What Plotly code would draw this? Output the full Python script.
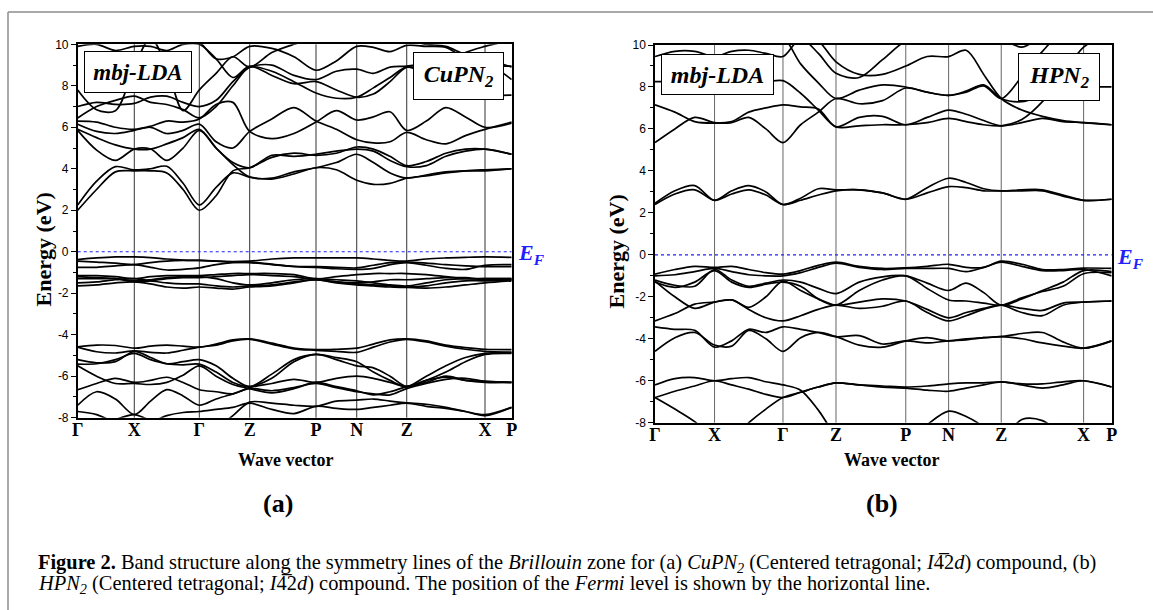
import plotly.graph_objects as go

# high-symmetry path (normalised k distance) and sample grid used for the bands
k_ticks = [0, 0.1304, 0.2802, 0.3963, 0.5491, 0.6429, 0.7581, 0.9385, 1.0]
k_labels = ["Γ", "X", "Γ", "Z", "P", "N", "Z", "X", "P"]
k_grid = [0, 0.0435, 0.0869, 0.1304, 0.1679, 0.2053, 0.2428, 0.2802,
          0.3189, 0.3576, 0.3963, 0.4472, 0.4982, 0.5491, 0.5960, 0.6429,
          0.6813, 0.7197, 0.7581, 0.8032, 0.8483, 0.8934, 0.9385, 1.0]

energy_range = [-8, 10]
energy_ticks = [-8, -6, -4, -2, 0, 2, 4, 6, 8, 10]
energy_labels = ["-8", "-6", "-4", "-2", "0", "2", "4", "6", "8", "10"]
fermi_level = 0.0

# (a) CuPN2, energies (eV) read at k_grid
cupn2_conduction = [
    [2.0, 3.0, 3.85, 3.9, 3.9, 3.8, 3.0, 2.0, 2.7, 3.9, 4.05, 4.55, 4.75, 4.65, 4.75, 5.05, 4.95, 4.6, 4.15, 4.35, 4.75, 4.95, 4.95, 4.7],
    [2.25, 3.4, 4.1, 3.95, 4.0, 4.12, 3.3, 2.25, 3.1, 3.8, 3.6, 3.5, 3.75, 4.05, 3.95, 3.45, 3.25, 3.3, 3.55, 3.65, 3.8, 3.9, 3.95, 4.0],
    [5.85, 4.9, 4.4, 4.95, 4.95, 4.4, 5.0, 5.85, 5.0, 4.2, 3.6, 3.55, 3.85, 4.05, 4.3, 4.7, 4.3, 3.8, 3.55, 3.7, 3.85, 3.9, 3.9, 4.0],
    [5.9, 5.5, 5.15, 4.95, 4.95, 5.2, 5.5, 5.9, 5.0, 4.3, 4.05, 4.65, 4.6, 4.7, 4.85, 4.95, 4.85, 4.4, 4.1, 4.15, 4.6, 4.85, 4.95, 4.7],
    [6.15, 5.8, 5.7, 5.85, 6.0, 5.7, 5.85, 6.15, 5.3, 5.0, 5.8, 6.4, 6.95, 6.3, 5.9, 5.4, 5.25, 5.3, 5.75, 5.4, 5.2, 5.6, 5.9, 6.25],
    [6.3, 6.25, 6.0, 5.9, 6.05, 6.3, 6.25, 6.4, 7.1, 7.2, 5.8, 5.45, 5.7, 6.25, 6.8, 6.35, 6.5, 6.75, 5.85, 6.3, 6.95, 6.5, 6.0, 6.2],
    [6.45, 7.0, 7.3, 7.5, 7.2, 7.1, 6.85, 6.45, 7.0, 8.0, 8.9, 8.7, 8.2, 7.65, 7.4, 7.45, 7.9, 8.4, 8.9, 8.6, 8.1, 7.7, 7.55, 7.55],
    [7.0, 7.2, 7.1, 7.15, 7.45, 7.5, 7.2, 7.0, 7.3, 8.2, 8.9, 9.0, 8.5, 8.3, 8.7, 8.8, 8.6, 8.9, 8.95, 9.1, 9.3, 9.5, 9.2, 8.3],
    [7.8, 6.85, 6.8, 8.9, 10.3, 8.9, 6.8, 7.8, 8.6, 9.4, 8.9, 9.6, 10.0, 10.3, 10.3, 10.3, 10.3, 10.3, 10.2, 10.0, 9.9, 9.5, 9.3, 8.9],
    [9.9, 10.0, 9.7, 9.9, 9.9, 9.7, 10.0, 10.0, 9.3, 8.4, 8.95, 8.5, 8.1, 8.2, 7.8, 7.45, 7.6, 8.2, 8.9, 8.8, 9.0, 9.6, 9.9, 10.2],
    [10.3, 10.5, 10.5, 10.5, 10.5, 10.5, 10.3, 10.1, 9.3, 9.4, 9.9, 9.8, 9.4, 8.75, 9.2, 9.9, 9.85, 9.65, 9.95, 9.9, 9.85, 9.3, 9.0, 8.95],
]
cupn2_valence = [
    [-0.38, -0.3, -0.25, -0.25, -0.28, -0.35, -0.4, -0.42, -0.45, -0.47, -0.45, -0.35, -0.3, -0.3, -0.3, -0.3, -0.35, -0.42, -0.45, -0.35, -0.3, -0.27, -0.25, -0.27],
    [-0.45, -0.5, -0.55, -0.62, -0.52, -0.45, -0.42, -0.42, -0.45, -0.5, -0.52, -0.62, -0.7, -0.72, -0.75, -0.78, -0.65, -0.52, -0.5, -0.55, -0.62, -0.68, -0.72, -0.72],
    [-0.75, -0.75, -0.68, -0.62, -0.75, -0.88, -0.85, -0.78, -0.62, -0.52, -0.5, -0.6, -0.72, -0.75, -0.82, -0.85, -0.8, -0.62, -0.52, -0.65, -0.8, -0.85, -0.65, -0.62],
    [-1.15, -1.15, -1.2, -1.3, -1.2, -1.15, -1.15, -1.15, -1.1, -1.05, -1.05, -1.05, -1.1, -1.3, -1.2, -1.1, -1.05, -1.05, -1.05, -1.1, -1.2, -1.3, -1.3, -1.3],
    [-1.2, -1.25, -1.3, -1.4, -1.35, -1.25, -1.2, -1.2, -1.3, -1.5, -1.6, -1.5, -1.35, -1.3, -1.35, -1.4, -1.5, -1.6, -1.65, -1.5, -1.35, -1.3, -1.3, -1.3],
    [-1.5, -1.45, -1.35, -1.3, -1.4, -1.5, -1.55, -1.55, -1.65, -1.7, -1.65, -1.6, -1.45, -1.35, -1.45, -1.55, -1.6, -1.65, -1.7, -1.65, -1.5, -1.4, -1.4, -1.35],
    [-1.65, -1.6, -1.5, -1.45, -1.55, -1.7, -1.75, -1.7, -1.75, -1.8, -1.7, -1.65, -1.5, -1.35, -1.5, -1.6, -1.65, -1.7, -1.72, -1.75, -1.7, -1.6, -1.5, -1.4],
    [-1.3, -1.3, -1.3, -1.45, -1.4, -1.3, -1.25, -1.25, -1.2, -1.15, -1.1, -1.15, -1.2, -1.35, -1.45, -1.5, -1.45, -1.35, -1.35, -1.3, -1.25, -1.25, -1.35, -1.35],
    [-4.58, -4.5, -4.52, -4.65, -4.55, -4.5, -4.55, -4.6, -4.45, -4.25, -4.2, -4.4, -4.65, -4.72, -4.7, -4.65, -4.45, -4.25, -4.2, -4.3, -4.5, -4.62, -4.7, -4.72],
    [-4.6, -4.82, -4.88, -4.78, -4.85, -4.88, -4.75, -4.6, -4.5, -4.3, -4.22, -4.45, -4.68, -4.75, -4.8, -4.85, -4.6, -4.35, -4.22, -4.35, -4.55, -4.7, -4.8, -4.85],
    [-5.2, -5.35, -5.3, -4.8, -5.1, -5.4, -5.3, -5.2, -5.5, -6.1, -6.5, -5.9, -5.2, -4.95, -5.1, -5.3, -5.8, -6.2, -6.5, -6.0, -5.5, -5.1, -4.9, -4.85],
    [-5.42, -5.4, -5.2, -4.9, -5.2, -5.4, -5.45, -5.42, -5.8, -6.3, -6.5, -6.1, -5.3, -4.95, -5.2, -5.5, -5.6, -6.0, -6.5, -6.2, -5.8, -5.3, -4.95, -4.9],
    [-6.65, -6.35, -6.1, -6.3, -6.2, -6.05, -6.3, -6.65, -6.75, -6.85, -6.55, -6.35, -6.15, -6.3, -6.1, -6.0, -6.1, -6.3, -6.5, -6.2, -6.05, -6.2, -6.25, -6.3],
    [-5.5, -6.0, -6.35, -6.35, -6.4, -6.3, -5.95, -5.5, -6.0, -6.4, -6.6, -6.8, -6.6, -6.3, -6.5, -6.7, -6.9, -6.75, -6.5, -6.3, -6.0, -6.2, -6.3, -6.3],
    [-7.4, -6.75, -7.1, -7.85, -7.2, -6.65, -6.95, -7.4, -7.1, -6.85, -6.6, -6.7, -6.55, -6.35, -6.55, -6.75, -6.85, -6.9, -6.6, -6.35, -6.15, -6.1, -6.25, -6.3],
    [-7.7, -7.85, -8.2, -8.2, -8.2, -7.9, -7.75, -7.7, -7.6, -7.5, -7.3, -7.6, -7.8, -7.45, -7.55, -7.6, -7.5, -7.4, -7.3, -7.45, -7.55, -7.7, -7.9, -7.5],
    [-8.8, -8.5, -8.1, -7.85, -8.15, -8.5, -8.8, -8.9, -8.5, -7.9, -7.25, -7.3, -7.4, -7.45, -7.2, -7.15, -7.1, -7.2, -7.28, -7.35, -7.5, -7.7, -7.85, -7.5],
]

# (b) HPN2
hpn2_conduction = [
    [2.4, 2.9, 3.1, 2.6, 2.9, 3.1, 2.85, 2.4, 2.6, 2.85, 3.05, 3.1, 2.95, 2.65, 2.95, 3.25, 3.2, 3.05, 3.05, 3.05, 3.05, 2.8, 2.6, 2.65],
    [2.45, 3.05, 3.3, 2.6, 3.05, 3.3, 3.0, 2.4, 2.7, 3.15, 3.1, 3.1, 2.95, 2.65, 3.2, 3.65, 3.45, 3.15, 3.05, 3.1, 3.1, 2.85, 2.6, 2.65],
    [5.35, 6.0, 6.55, 6.3, 6.3, 6.55, 6.0, 5.35, 6.2, 6.8, 7.45, 7.2, 7.35, 7.95, 7.75, 7.6, 7.8, 8.1, 7.45, 7.3, 7.6, 7.95, 8.0, 8.0],
    [7.15, 6.8, 6.35, 6.28, 6.35, 6.8, 7.0, 7.15, 7.05, 6.95, 6.1, 6.55, 6.6, 6.2, 6.55, 6.9, 6.7, 6.4, 6.15, 6.3, 6.5, 6.35, 6.3, 6.2],
    [8.25, 8.25, 8.25, 8.25, 8.25, 8.25, 8.25, 8.3, 7.7, 6.9, 6.1, 6.15, 6.2, 6.2, 6.3, 6.5, 6.35, 6.2, 6.15, 6.45, 7.3, 8.6, 9.9, 10.6],
    [9.45, 9.7, 9.7, 9.45, 9.7, 9.75, 9.6, 9.45, 10.3, 9.6, 8.65, 8.45, 9.3, 10.2, 10.5, 10.5, 10.5, 10.5, 10.3, 9.9, 10.4, 10.6, 10.6, 10.6],
    [10.6, 10.6, 10.6, 10.6, 10.6, 10.6, 10.6, 10.4, 9.1, 8.2, 7.45, 7.85, 8.1, 8.0, 7.75, 7.6, 7.75, 8.05, 7.45, 8.5, 9.7, 10.6, 10.6, 10.6],
    [10.6, 10.6, 10.6, 10.6, 10.6, 10.6, 10.6, 10.6, 10.6, 10.2, 9.2, 8.6, 8.6, 9.0, 9.45, 9.45, 9.75, 8.6, 7.45, 6.9, 6.6, 6.4, 6.3, 6.2],
]
hpn2_valence = [
    [-0.92, -0.7, -0.55, -0.6, -0.55, -0.7, -0.85, -0.92, -0.75, -0.5, -0.35, -0.55, -0.65, -0.62, -0.55, -0.45, -0.6, -0.6, -0.3, -0.45, -0.7, -0.7, -0.63, -0.65],
    [-1.0, -0.95, -0.8, -0.65, -0.8, -0.95, -1.0, -1.0, -0.85, -0.6, -0.4, -0.6, -0.7, -0.65, -0.65, -0.65, -0.8, -0.6, -0.35, -0.55, -0.75, -0.75, -0.7, -1.0],
    [-1.2, -1.45, -1.5, -0.7, -1.2, -1.5, -1.35, -1.2, -1.3, -1.6, -1.85, -1.3, -1.05, -1.0, -1.35, -1.7, -1.35, -1.8, -2.4, -2.1, -1.7, -1.3, -0.75, -0.8],
    [-1.3, -1.55, -1.3, -0.75, -1.3, -1.55, -1.4, -1.3, -1.5, -2.1, -2.4, -1.7, -1.2, -1.0, -1.6, -2.15, -2.2, -2.3, -2.4, -2.05, -1.75, -1.5, -0.9, -0.85],
    [-1.25, -2.0, -2.55, -2.25, -2.15, -2.5, -2.0, -1.25, -1.7, -2.1, -2.4, -2.25, -2.1, -2.2, -2.6, -3.0, -2.75, -2.55, -2.4, -2.75, -2.9, -2.4, -2.25, -2.2],
    [-3.15, -2.8, -2.35, -2.25, -2.15, -2.6, -3.0, -3.15, -2.9, -2.6, -2.4, -2.55, -2.45, -2.2, -2.75, -3.15, -2.9, -2.6, -2.4, -2.55, -2.65, -2.3, -2.25, -2.2],
    [-3.43, -3.55, -3.6, -4.4, -4.1, -3.55, -3.7, -3.43, -3.55, -3.7, -3.9, -3.85, -4.25, -4.1, -4.2, -4.1, -4.05, -3.95, -3.9, -3.75, -3.7, -4.15, -4.45, -4.1],
    [-4.6, -3.95, -3.7, -4.3, -4.35, -3.6, -4.0, -4.6, -3.95, -3.7, -3.9, -4.3, -4.4, -4.1, -3.95, -4.1, -4.0, -3.95, -3.9, -4.0, -4.2, -4.35, -4.45, -4.1],
    [-6.2, -5.9, -5.85, -6.0, -5.9, -5.85, -6.05, -6.2, -6.45, -7.4, -8.6, -9.3, -9.5, -9.5, -9.5, -9.5, -9.5, -9.5, -9.5, -9.5, -9.5, -9.5, -9.5, -9.5],
    [-6.8, -6.5, -6.25, -6.0, -6.2, -6.4, -6.65, -6.8, -6.55, -6.3, -6.1, -6.2, -6.25, -6.3, -6.25, -6.15, -6.1, -6.1, -6.05, -6.15, -6.15, -6.05, -6.0, -6.3],
    [-6.8, -7.35, -7.95, -8.8, -8.8, -8.0, -7.35, -6.8, -6.55, -6.3, -6.1, -6.2, -6.3, -6.35, -6.45, -6.5, -6.35, -6.2, -6.05, -6.2, -6.35, -6.2, -6.0, -6.3],
    [-9.5, -9.5, -9.5, -9.5, -9.5, -9.5, -9.5, -9.5, -9.5, -9.5, -9.5, -9.5, -9.5, -9.0, -8.1, -7.45, -7.7, -8.2, -8.9, -9.5, -9.5, -9.5, -9.5, -9.5],
    [-9.5, -9.5, -9.5, -9.5, -9.5, -9.5, -9.5, -9.5, -9.5, -9.5, -9.5, -9.5, -9.5, -9.5, -9.5, -9.5, -9.5, -9.5, -8.9, -7.85, -7.9, -8.6, -9.3, -9.5],
]

W, H = 1153, 610


def px(x):
    return x / W


def py(y):
    return 1 - y / H


fig = go.Figure()

panels = [
    ("x", "y", cupn2_conduction + cupn2_valence, "#333333"),
    ("x2", "y2", hpn2_conduction + hpn2_valence, "#666666"),
]
for xa, ya, bands, vcolor in panels:
    for band in bands:
        fig.add_trace(go.Scatter(
            x=k_grid, y=band, xaxis=xa, yaxis=ya, mode="lines",
            line=dict(color="black", width=1.7, shape="spline", smoothing=0.9),
            hoverinfo="skip", showlegend=False))
    # Fermi level
    fig.add_trace(go.Scatter(
        x=[k_ticks[0], k_ticks[-1]], y=[fermi_level, fermi_level],
        xaxis=xa, yaxis=ya, mode="lines",
        line=dict(color="#1f1fff", width=1.2, dash="dot"),
        hoverinfo="skip", showlegend=False))
    # high-symmetry verticals
    for k in k_ticks[1:-1]:
        fig.add_shape(type="line", xref=xa, yref=ya + " domain",
                      x0=k, x1=k, y0=0, y1=1, layer="below",
                      line=dict(color=vcolor, width=1))

xaxis_style = dict(
    range=[0, 1], tickvals=k_ticks,
    ticktext=["<b>%s</b>" % s for s in k_labels],
    tickfont=dict(family="Liberation Serif", size=18, color="black"),
    showline=True, mirror=True, linecolor="black", linewidth=1.5,
    showgrid=False, zeroline=False, ticks="", automargin=False,
    ticklabelstandoff=-5,
)
yaxis_style = dict(
    range=energy_range, tickvals=energy_ticks, ticktext=energy_labels,
    tickfont=dict(family="Liberation Sans", size=12, color="black"),
    showline=True, mirror=True, linecolor="black", linewidth=1.5,
    showgrid=False, zeroline=False, ticks="outside", ticklen=5,
    tickwidth=1, tickcolor="black", automargin=False,
    minor=dict(dtick=1, ticks="outside", ticklen=3, tickcolor="black"),
)

fig.update_layout(
    width=W, height=H, autosize=False,
    margin=dict(l=0, r=0, t=0, b=0, pad=0),
    paper_bgcolor="white", plot_bgcolor="white",
    xaxis=dict(domain=[px(77.7), px(511.7)], anchor="y", **xaxis_style),
    yaxis=dict(domain=[py(417.7), py(44.3)], anchor="x", **yaxis_style),
    xaxis2=dict(domain=[px(655), px(1111.7)], anchor="y2", **xaxis_style),
    yaxis2=dict(domain=[py(422.7), py(45)], anchor="x2", **yaxis_style),
)

# outer frame of the figure
frame = dict(color="#8c8c8c", width=1.5)
fig.add_shape(type="line", xref="paper", yref="paper",
              x0=px(8), x1=1, y0=py(12), y1=py(12), line=frame)
fig.add_shape(type="line", xref="paper", yref="paper",
              x0=px(8), x1=px(8), y0=0, y1=py(12), line=frame)

serif = "Liberation Serif"


def note(text, x, y, size, **kw):
    d = dict(text=text, x=px(x), y=py(y), xref="paper", yref="paper",
             xanchor="center", yanchor="middle", showarrow=False,
             font=dict(family=serif, size=size, color="black"))
    d.update(kw)
    fig.add_annotation(**d)


box = dict(bordercolor="black", borderwidth=1, bgcolor="white", borderpad=0,
           xanchor="left", yanchor="top")
note("<b><i>mbj-LDA</i></b>", 84.3, 51, 23, width=106, height=40, **box)
note("<b><i>CuPN<sub>2</sub></i></b>", 413.3, 52.3, 24, width=89, height=46, **box)
note("<b><i>mbj-LDA</i></b>", 660.7, 54.3, 24, width=111, height=39, **box)
note("<b><i>HPN<sub>2</sub></i></b>", 1018.3, 53.3, 24, width=80, height=46, **box)

blue = dict(family=serif, size=22, color="#1f1fff")
note("<b><i>E<sub>F</sub></i></b>", 516, 254, 22, xanchor="left", font=blue)
note("<b><i>E<sub>F</sub></i></b>", 1115, 258, 22, xanchor="left", font=blue)

note("<b>Energy (eV)</b>", 43.7, 249.7, 22, textangle=-90)
note("<b>Energy (eV)</b>", 616.5, 252, 22, textangle=-90)
note("<b>Wave vector</b>", 285.5, 460, 18)
note("<b>Wave vector</b>", 891, 460, 18)
note("<b>(a)</b>", 277.5, 503, 26)
note("<b>(b)</b>", 882, 503, 26)

caption1 = ("<b>Figure 2.</b> Band structure along the symmetry lines of the <i>Brillouin</i> zone "
            "for (a) <i>CuPN<sub>2</sub></i> (Centered tetragonal; <i>I</i>4\u03052<i>d</i>) compound, (b)")
caption2 = ("<i>HPN<sub>2</sub></i> (Centered tetragonal; <i>I</i>4\u03052<i>d</i>) compound. "
            "The position of the <i>Fermi</i> level is shown by the horizontal line.")
note(caption1, 36, 563, 20.4, xanchor="left")
note(caption2, 36, 584, 20.4, xanchor="left")

# the page body has a default 8px margin; drop it so the figure fills the window
fig.write_html("out.html", config={"displayModeBar": False},
               post_script="document.body.style.margin='0';")
